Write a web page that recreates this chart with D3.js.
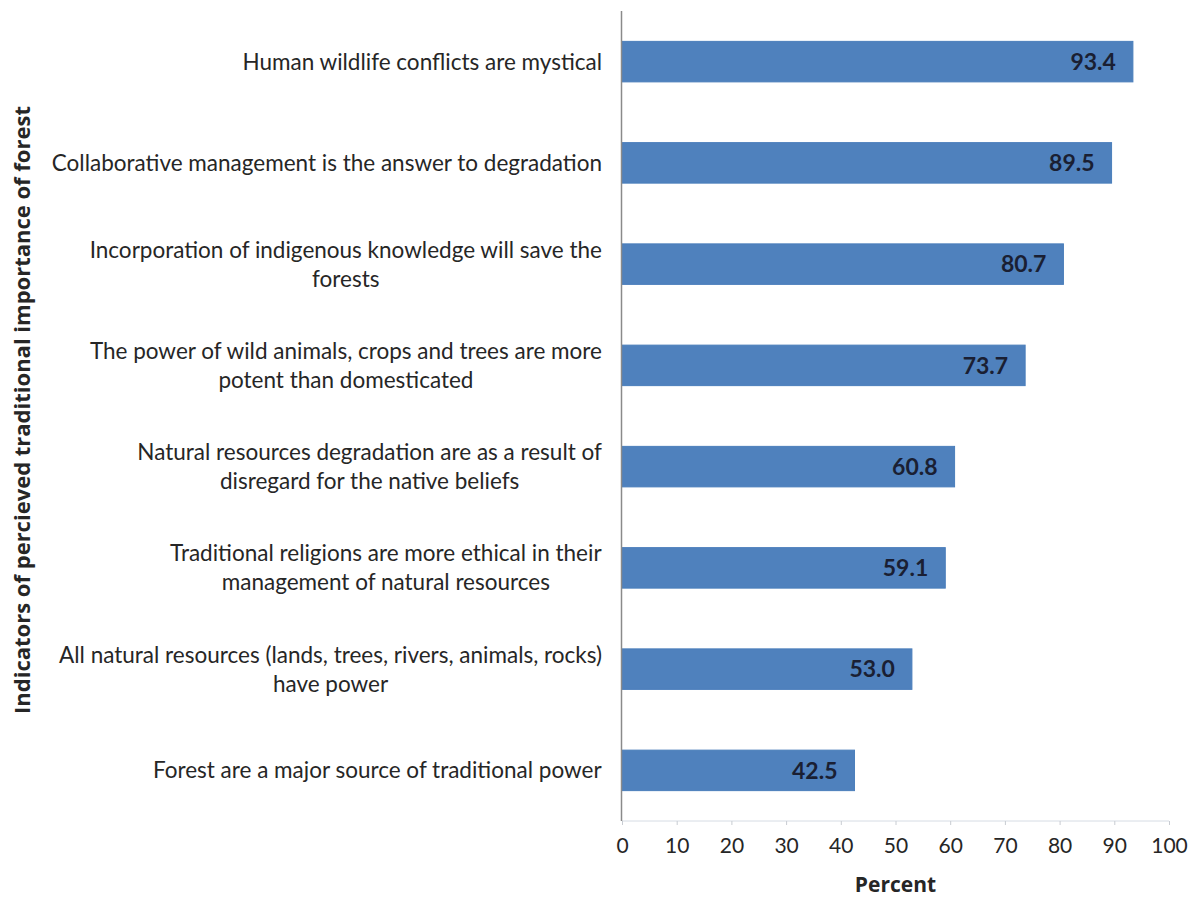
<!DOCTYPE html>
<html>
<head>
<meta charset="utf-8">
<script src="https://cdn.jsdelivr.net/npm/d3@7"></script>
<style>
  body { margin: 0; background: #fff; }
  text { font-family: Lato, "Liberation Sans", sans-serif; }
</style>
</head>
<body>
<div id="chart"></div>
<script>
var categories = [
  ['Human wildlife conflicts are mystical'],
  ['Collaborative management is the answer to degradation'],
  ['Incorporation of indigenous knowledge will save the', 'forests'],
  ['The power of wild animals, crops and trees are more', 'potent than domesticated'],
  ['Natural resources degradation are as a result of', 'disregard  for the native beliefs'],
  ['Traditional religions are more ethical in their', 'management of natural resources'],
  ['All natural resources (lands, trees, rivers, animals, rocks)', 'have power'],
  ['Forest are a major source of traditional power']
];
var values = [93.4, 89.5, 80.7, 73.7, 60.8, 59.1, 53.0, 42.5];
var xTicks = [0, 10, 20, 30, 40, 50, 60, 70, 80, 90, 100];

var width = 1189, height = 900;
var svg = d3.select('#chart').append('svg').attr('width', width).attr('height', height);

var x = d3.scaleLinear().domain([0, 100]).range([622, 1169]);
var y = d3.scaleBand().domain(d3.range(values.length)).range([11, 821]).paddingInner(0.6).paddingOuter(0.3);

// x axis
var xAxis = svg.append('g').attr('transform', 'translate(0,821)')
  .call(d3.axisBottom(x).tickValues(xTicks).tickSize(4).tickPadding(13).tickFormat(d3.format('d')));
xAxis.select('.domain').attr('stroke', '#d6dce4').attr('d', 'M622,0H1169');
xAxis.selectAll('.tick line').attr('stroke', '#c8ccd2');
xAxis.selectAll('.tick text').attr('fill', '#262626').style('font-size', '21px');

// bars
svg.append('g').selectAll('rect').data(values).enter().append('rect')
  .attr('x', x(0))
  .attr('y', (d, i) => y(i))
  .attr('width', d => x(d) - x(0))
  .attr('height', y.bandwidth())
  .attr('fill', '#4f81bd')
  .attr('stroke', '#4a7ebb')
  .attr('stroke-width', 1);

// value labels
svg.append('g').selectAll('text').data(values).enter().append('text')
  .attr('x', d => x(d) - 17)
  .attr('y', (d, i) => y(i) + y.bandwidth() / 2)
  .attr('dy', '0.36em')
  .attr('text-anchor', 'end')
  .attr('fill', '#1a1f33')
  .style('font-size', '23px')
  .style('font-weight', 'bold')
  .text(d => d.toFixed(1));

// y axis line
svg.append('line').attr('x1', 621.5).attr('x2', 621.5).attr('y1', 11).attr('y2', 821)
  .attr('stroke', '#8a8a8a').attr('stroke-width', 1.5);

// category labels
var lineH = 29;
var labels = svg.append('g');
categories.forEach(function (lines, i) {
  var g = labels.append('g');
  var t = g.append('text').attr('text-anchor', 'middle').attr('fill', '#262626').style('font-size', '22.5px');
  var cy = y(i) + y.bandwidth() / 2 - (lines.length - 1) * lineH / 2;
  lines.forEach(function (s, j) {
    t.append('tspan').attr('x', 0).attr('y', cy + j * lineH).attr('dy', '0.36em').text(s);
  });
  var w = t.node().getBBox().width;
  t.selectAll('tspan').attr('x', 602 - w / 2);
});

// axis titles
svg.append('text').attr('x', x(50)).attr('y', 892).attr('text-anchor', 'middle')
  .style('font-family', '"Open Sans", sans-serif')
  .style('font-size', '21px').style('font-weight', 'bold').attr('fill', '#262626').text('Percent');
svg.append('text').attr('transform', 'translate(30,410)rotate(-90)').attr('text-anchor', 'middle')
  .style('font-family', '"Open Sans", sans-serif')
  .style('font-size', '22px').style('font-weight', 'bold').attr('fill', '#262626')
  .text('Indicators of percieved traditional importance of forest');
</script>
</body>
</html>
